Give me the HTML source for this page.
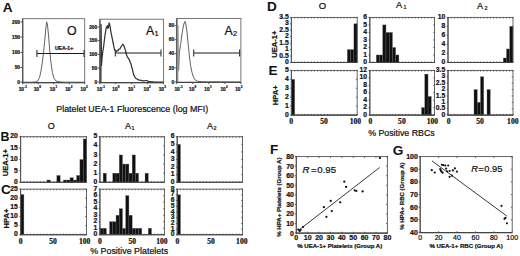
<!DOCTYPE html>
<html><head><meta charset="utf-8"><style>
html,body{margin:0;padding:0;background:#fff;width:520px;height:256px;overflow:hidden}
svg{display:block}
text{stroke:#111;stroke-width:0.22px;paint-order:stroke}

</style></head><body>
<svg width="520" height="256" viewBox="0 0 520 256" font-family='"Liberation Sans", sans-serif' fill="#111">
<rect width="520" height="256" fill="#fff"/>
<text x="2.70" y="12.30" font-size="13.6" font-weight="700" style="stroke:none">A</text>
<text x="0.40" y="140.90" font-size="12.4" font-weight="700" style="stroke:none">B</text>
<text x="0.90" y="194.30" font-size="13.6" font-weight="700" style="stroke:none">C</text>
<text x="267.00" y="11.30" font-size="13.6" font-weight="700" style="stroke:none">D</text>
<text x="268.40" y="75.20" font-size="13.6" font-weight="700" style="stroke:none">E</text>
<text x="270.00" y="154.30" font-size="13.6" font-weight="700" style="stroke:none">F</text>
<text x="392.80" y="154.50" font-size="13.6" font-weight="700" style="stroke:none">G</text>
<rect x="22.7" y="18.7" width="62.0" height="64.0" fill="none" stroke="#666" stroke-width="0.9"/>
<path d="M22.70 18.70L22.70 83.20" stroke="#555" stroke-width="1.3"/>
<path d="M22.20 82.70L84.70 82.70" stroke="#444" stroke-width="1.3"/>
<text x="20.10" y="23.70" font-size="4.9" font-weight="700" text-anchor="end">200</text>
<text x="20.10" y="38.70" font-size="4.9" font-weight="700" text-anchor="end">150</text>
<text x="20.10" y="54.20" font-size="4.9" font-weight="700" text-anchor="end">100</text>
<text x="20.10" y="69.20" font-size="4.9" font-weight="700" text-anchor="end">50</text>
<text x="20.10" y="83.70" font-size="4.9" font-weight="700" text-anchor="end">0</text>
<text x="24.00" y="91.00" font-size="4.8" font-weight="700" text-anchor="end">10</text>
<text x="24.20" y="87.50" font-size="3.0" font-weight="700">-1</text>
<text x="39.00" y="91.00" font-size="4.8" font-weight="700" text-anchor="end">10</text>
<text x="39.20" y="87.50" font-size="3.0" font-weight="700">0</text>
<text x="55.20" y="91.00" font-size="4.8" font-weight="700" text-anchor="end">10</text>
<text x="55.40" y="87.50" font-size="3.0" font-weight="700">1</text>
<text x="70.50" y="91.00" font-size="4.8" font-weight="700" text-anchor="end">10</text>
<text x="70.70" y="87.50" font-size="3.0" font-weight="700">2</text>
<text x="85.90" y="91.00" font-size="4.8" font-weight="700" text-anchor="end">10</text>
<text x="86.10" y="87.50" font-size="3.0" font-weight="700">3</text>
<path d="M20.50 22.00L22.70 22.00M20.50 37.00L22.70 37.00M20.50 52.50L22.70 52.50M20.50 67.50L22.70 67.50M20.50 82.00L22.70 82.00M22.70 82.70L22.70 84.30M38.20 82.70L38.20 84.30M53.70 82.70L53.70 84.30M69.20 82.70L69.20 84.30M84.70 82.70L84.70 84.30" stroke="#444" stroke-width="0.9"/>
<polyline points="23.00,82.20 32.00,82.20 35.50,81.80 37.80,80.80 39.50,77.50 41.00,71.00 42.40,62.00 43.60,52.00 44.80,40.00 45.80,29.00 46.60,21.80 47.50,25.00 48.50,35.00 49.60,49.00 50.90,62.00 52.40,72.50 54.00,78.30 56.00,81.00 59.00,81.80 65.00,82.20 85.00,82.20" fill="none" stroke="#5a5a5a" stroke-width="0.95" stroke-linejoin="round"/>
<path d="M36.90 53.50L84.00 53.50" stroke="#1a1a1a" stroke-width="1.15"/>
<path d="M36.90 50.10L36.90 56.90" stroke="#333" stroke-width="1.1"/>
<path d="M84.00 50.10L84.00 56.90" stroke="#333" stroke-width="1.1"/>
<text x="66.90" y="35.20" font-size="12.3">O</text>
<text x="54.90" y="49.90" font-size="5.1" font-weight="700">UEA-1+</text>
<rect x="99.9" y="19.2" width="63.69999999999999" height="63.5" fill="none" stroke="#666" stroke-width="0.9"/>
<path d="M99.90 19.20L99.90 83.20" stroke="#555" stroke-width="1.3"/>
<path d="M99.40 82.70L163.60 82.70" stroke="#444" stroke-width="1.3"/>
<text x="97.30" y="28.70" font-size="4.9" font-weight="700" text-anchor="end">200</text>
<text x="97.30" y="42.40" font-size="4.9" font-weight="700" text-anchor="end">150</text>
<text x="97.30" y="56.10" font-size="4.9" font-weight="700" text-anchor="end">100</text>
<text x="97.30" y="69.80" font-size="4.9" font-weight="700" text-anchor="end">50</text>
<text x="97.30" y="83.70" font-size="4.9" font-weight="700" text-anchor="end">0</text>
<text x="102.10" y="91.00" font-size="4.8" font-weight="700" text-anchor="end">10</text>
<text x="102.30" y="87.50" font-size="3.0" font-weight="700">-1</text>
<text x="117.60" y="91.00" font-size="4.8" font-weight="700" text-anchor="end">10</text>
<text x="117.80" y="87.50" font-size="3.0" font-weight="700">0</text>
<text x="133.30" y="91.00" font-size="4.8" font-weight="700" text-anchor="end">10</text>
<text x="133.50" y="87.50" font-size="3.0" font-weight="700">1</text>
<text x="148.90" y="91.00" font-size="4.8" font-weight="700" text-anchor="end">10</text>
<text x="149.10" y="87.50" font-size="3.0" font-weight="700">2</text>
<text x="164.00" y="91.00" font-size="4.8" font-weight="700" text-anchor="end">10</text>
<text x="164.20" y="87.50" font-size="3.0" font-weight="700">3</text>
<path d="M97.70 27.00L99.90 27.00M97.70 40.70L99.90 40.70M97.70 54.40L99.90 54.40M97.70 68.10L99.90 68.10M97.70 82.00L99.90 82.00M99.90 82.70L99.90 84.30M115.83 82.70L115.83 84.30M131.75 82.70L131.75 84.30M147.68 82.70L147.68 84.30M163.60 82.70L163.60 84.30" stroke="#444" stroke-width="0.9"/>
<polyline points="100.90,82.30 101.10,24.50 101.50,65.50 102.00,58.50 102.90,51.00 103.70,46.00 104.40,40.00 105.00,35.10 105.70,31.00 106.40,26.90 107.00,27.50 107.50,25.60 108.00,28.50 108.40,27.60 109.10,22.80 109.60,24.50 110.20,26.90 110.60,30.00 111.00,32.40 111.70,36.00 112.40,39.20 113.10,43.00 113.80,46.10 114.40,49.50 115.10,50.20 115.80,51.80 116.50,51.50 117.20,50.40 117.90,50.80 118.90,49.20 120.00,48.80 120.80,47.20 122.00,45.50 122.60,44.20 123.30,44.70 124.20,46.50 125.00,49.20 125.50,50.20 126.40,54.50 127.40,57.00 128.30,58.20 129.40,59.80 130.20,62.50 131.00,63.90 131.70,66.80 132.40,69.30 133.10,72.50 133.70,74.80 134.60,76.50 135.60,78.30 136.60,78.80 137.60,79.40 139.30,80.20 141.10,80.30 143.50,80.90 146.60,80.50 148.50,81.30 150.70,81.60 155.00,82.00 163.00,82.20" fill="none" stroke="#333" stroke-width="1.25" stroke-linejoin="round"/>
<path d="M115.30 53.00L161.00 53.00" stroke="#1a1a1a" stroke-width="1.15"/>
<path d="M115.30 49.60L115.30 56.40" stroke="#333" stroke-width="1.1"/>
<path d="M161.00 49.60L161.00 56.40" stroke="#333" stroke-width="1.1"/>
<text x="145.90" y="34.90" font-size="12.3">A</text>
<text x="154.50" y="36.30" font-size="7.4">1</text>
<rect x="176.8" y="18.5" width="64.1" height="63.900000000000006" fill="none" stroke="#666" stroke-width="0.9"/>
<path d="M176.80 18.50L176.80 82.90" stroke="#555" stroke-width="1.3"/>
<path d="M176.30 82.40L240.90 82.40" stroke="#444" stroke-width="1.3"/>
<text x="174.20" y="27.40" font-size="4.9" font-weight="700" text-anchor="end">80</text>
<text x="174.20" y="41.40" font-size="4.9" font-weight="700" text-anchor="end">60</text>
<text x="174.20" y="55.40" font-size="4.9" font-weight="700" text-anchor="end">40</text>
<text x="174.20" y="69.50" font-size="4.9" font-weight="700" text-anchor="end">20</text>
<text x="174.20" y="83.70" font-size="4.9" font-weight="700" text-anchor="end">0</text>
<text x="179.80" y="91.00" font-size="4.8" font-weight="700" text-anchor="end">10</text>
<text x="180.00" y="87.50" font-size="3.0" font-weight="700">-1</text>
<text x="194.40" y="91.00" font-size="4.8" font-weight="700" text-anchor="end">10</text>
<text x="194.60" y="87.50" font-size="3.0" font-weight="700">0</text>
<text x="209.70" y="91.00" font-size="4.8" font-weight="700" text-anchor="end">10</text>
<text x="209.90" y="87.50" font-size="3.0" font-weight="700">1</text>
<text x="225.80" y="91.00" font-size="4.8" font-weight="700" text-anchor="end">10</text>
<text x="226.00" y="87.50" font-size="3.0" font-weight="700">2</text>
<text x="240.50" y="91.00" font-size="4.8" font-weight="700" text-anchor="end">10</text>
<text x="240.70" y="87.50" font-size="3.0" font-weight="700">3</text>
<path d="M174.60 25.70L176.80 25.70M174.60 39.70L176.80 39.70M174.60 53.70L176.80 53.70M174.60 67.80L176.80 67.80M174.60 82.00L176.80 82.00M176.80 82.40L176.80 84.00M192.83 82.40L192.83 84.00M208.85 82.40L208.85 84.00M224.88 82.40L224.88 84.00M240.90 82.40L240.90 84.00" stroke="#444" stroke-width="0.9"/>
<polyline points="178.60,70.50 179.30,53.00 180.60,44.40 182.00,34.00 183.40,26.00 184.50,22.00 185.00,21.40 185.80,24.00 187.00,32.00 188.20,44.40 189.40,56.00 190.60,65.70 192.00,72.50 193.70,77.90 195.50,80.20 197.40,81.20 202.00,81.80 240.50,82.00" fill="none" stroke="#5a5a5a" stroke-width="0.95" stroke-linejoin="round"/>
<path d="M193.70 53.00L239.60 53.00" stroke="#1a1a1a" stroke-width="1.15"/>
<path d="M193.70 49.60L193.70 56.40" stroke="#333" stroke-width="1.1"/>
<path d="M239.60 49.60L239.60 56.40" stroke="#333" stroke-width="1.1"/>
<text x="224.50" y="34.80" font-size="12.3">A</text>
<text x="233.10" y="36.20" font-size="7.4">2</text>
<path d="M177.90 82.00L177.90 25.50" stroke="#888" stroke-width="0.8"/>
<path d="M177.90 25.50L178.60 70.50" stroke="#888" stroke-width="0.8"/>
<text x="56.30" y="111.80" font-size="8.9">Platelet UEA-1 Fluorescence (log MFI)</text>
<rect x="46.96" y="180.02" width="3.30" height="2.28" fill="#111" stroke="#666" stroke-width="0.35"/>
<rect x="56.85" y="175.46" width="3.30" height="6.84" fill="#111" stroke="#666" stroke-width="0.35"/>
<rect x="63.44" y="180.02" width="3.30" height="2.28" fill="#111" stroke="#666" stroke-width="0.35"/>
<rect x="66.73" y="180.02" width="3.30" height="2.28" fill="#111" stroke="#666" stroke-width="0.35"/>
<rect x="70.03" y="177.74" width="3.30" height="4.56" fill="#111" stroke="#666" stroke-width="0.35"/>
<rect x="73.32" y="180.02" width="3.30" height="2.28" fill="#111" stroke="#666" stroke-width="0.35"/>
<rect x="76.62" y="175.46" width="3.30" height="6.84" fill="#111" stroke="#666" stroke-width="0.35"/>
<rect x="79.91" y="159.50" width="3.30" height="22.80" fill="#111" stroke="#666" stroke-width="0.35"/>
<rect x="83.21" y="138.98" width="3.30" height="43.32" fill="#111" stroke="#666" stroke-width="0.35"/>
<rect x="20.6" y="136.7" width="65.90" height="45.60" fill="none" stroke="#555" stroke-width="0.9"/>
<path d="M20.60 136.30L20.60 182.70" stroke="#555" stroke-width="1.1"/>
<path d="M20.20 182.30L86.50 182.30" stroke="#444" stroke-width="1.1"/>
<text x="17.90" y="183.90" font-size="6.8" font-weight="700" text-anchor="end">0</text>
<text x="17.90" y="172.50" font-size="6.8" font-weight="700" text-anchor="end">5</text>
<text x="17.90" y="161.10" font-size="6.8" font-weight="700" text-anchor="end">10</text>
<text x="17.90" y="149.70" font-size="6.8" font-weight="700" text-anchor="end">15</text>
<text x="17.90" y="138.30" font-size="6.8" font-weight="700" text-anchor="end">20</text>
<path d="M20.60 136.70L20.60 137.90M20.60 182.30L20.60 181.10M23.90 136.70L23.90 137.90M23.90 182.30L23.90 181.10M27.19 136.70L27.19 137.90M27.19 182.30L27.19 181.10M30.49 136.70L30.49 137.90M30.49 182.30L30.49 181.10M33.78 136.70L33.78 137.90M33.78 182.30L33.78 181.10M37.08 136.70L37.08 137.90M37.08 182.30L37.08 181.10M40.37 136.70L40.37 137.90M40.37 182.30L40.37 181.10M43.67 136.70L43.67 137.90M43.67 182.30L43.67 181.10M46.96 136.70L46.96 137.90M46.96 182.30L46.96 181.10M50.26 136.70L50.26 137.90M50.26 182.30L50.26 181.10M53.55 136.70L53.55 137.90M53.55 182.30L53.55 181.10M56.85 136.70L56.85 137.90M56.85 182.30L56.85 181.10M60.14 136.70L60.14 137.90M60.14 182.30L60.14 181.10M63.44 136.70L63.44 137.90M63.44 182.30L63.44 181.10M66.73 136.70L66.73 137.90M66.73 182.30L66.73 181.10M70.03 136.70L70.03 137.90M70.03 182.30L70.03 181.10M73.32 136.70L73.32 137.90M73.32 182.30L73.32 181.10M76.62 136.70L76.62 137.90M76.62 182.30L76.62 181.10M79.91 136.70L79.91 137.90M79.91 182.30L79.91 181.10M83.21 136.70L83.21 137.90M83.21 182.30L83.21 181.10M86.50 136.70L86.50 137.90M86.50 182.30L86.50 181.10M19.30 182.30L20.60 182.30M86.50 182.30L85.20 182.30M19.30 170.90L20.60 170.90M86.50 170.90L85.20 170.90M19.30 159.50L20.60 159.50M86.50 159.50L85.20 159.50M19.30 148.10L20.60 148.10M86.50 148.10L85.20 148.10M19.30 136.70L20.60 136.70M86.50 136.70L85.20 136.70" stroke="#444" stroke-width="0.75"/>
<rect x="103.12" y="173.18" width="3.23" height="9.12" fill="#111" stroke="#666" stroke-width="0.35"/>
<rect x="112.80" y="173.18" width="3.23" height="9.12" fill="#111" stroke="#666" stroke-width="0.35"/>
<rect x="116.03" y="173.18" width="3.23" height="9.12" fill="#111" stroke="#666" stroke-width="0.35"/>
<rect x="119.25" y="154.94" width="3.23" height="27.36" fill="#111" stroke="#666" stroke-width="0.35"/>
<rect x="122.48" y="164.06" width="3.23" height="18.24" fill="#111" stroke="#666" stroke-width="0.35"/>
<rect x="125.70" y="164.06" width="3.23" height="18.24" fill="#111" stroke="#666" stroke-width="0.35"/>
<rect x="128.93" y="173.18" width="3.23" height="9.12" fill="#111" stroke="#666" stroke-width="0.35"/>
<rect x="132.15" y="154.94" width="3.23" height="27.36" fill="#111" stroke="#666" stroke-width="0.35"/>
<rect x="135.38" y="173.18" width="3.23" height="9.12" fill="#111" stroke="#666" stroke-width="0.35"/>
<rect x="145.05" y="173.18" width="3.23" height="9.12" fill="#111" stroke="#666" stroke-width="0.35"/>
<rect x="99.9" y="136.7" width="64.50" height="45.60" fill="none" stroke="#555" stroke-width="0.9"/>
<path d="M99.90 136.30L99.90 182.70" stroke="#555" stroke-width="1.1"/>
<path d="M99.50 182.30L164.40 182.30" stroke="#444" stroke-width="1.1"/>
<text x="97.20" y="183.90" font-size="6.8" font-weight="700" text-anchor="end">0</text>
<text x="97.20" y="174.78" font-size="6.8" font-weight="700" text-anchor="end">1</text>
<text x="97.20" y="165.66" font-size="6.8" font-weight="700" text-anchor="end">2</text>
<text x="97.20" y="156.54" font-size="6.8" font-weight="700" text-anchor="end">3</text>
<text x="97.20" y="147.42" font-size="6.8" font-weight="700" text-anchor="end">4</text>
<text x="97.20" y="138.30" font-size="6.8" font-weight="700" text-anchor="end">5</text>
<path d="M99.90 136.70L99.90 137.90M99.90 182.30L99.90 181.10M103.12 136.70L103.12 137.90M103.12 182.30L103.12 181.10M106.35 136.70L106.35 137.90M106.35 182.30L106.35 181.10M109.58 136.70L109.58 137.90M109.58 182.30L109.58 181.10M112.80 136.70L112.80 137.90M112.80 182.30L112.80 181.10M116.03 136.70L116.03 137.90M116.03 182.30L116.03 181.10M119.25 136.70L119.25 137.90M119.25 182.30L119.25 181.10M122.48 136.70L122.48 137.90M122.48 182.30L122.48 181.10M125.70 136.70L125.70 137.90M125.70 182.30L125.70 181.10M128.93 136.70L128.93 137.90M128.93 182.30L128.93 181.10M132.15 136.70L132.15 137.90M132.15 182.30L132.15 181.10M135.38 136.70L135.38 137.90M135.38 182.30L135.38 181.10M138.60 136.70L138.60 137.90M138.60 182.30L138.60 181.10M141.83 136.70L141.83 137.90M141.83 182.30L141.83 181.10M145.05 136.70L145.05 137.90M145.05 182.30L145.05 181.10M148.28 136.70L148.28 137.90M148.28 182.30L148.28 181.10M151.50 136.70L151.50 137.90M151.50 182.30L151.50 181.10M154.73 136.70L154.73 137.90M154.73 182.30L154.73 181.10M157.95 136.70L157.95 137.90M157.95 182.30L157.95 181.10M161.18 136.70L161.18 137.90M161.18 182.30L161.18 181.10M164.40 136.70L164.40 137.90M164.40 182.30L164.40 181.10M98.60 182.30L99.90 182.30M164.40 182.30L163.10 182.30M98.60 173.18L99.90 173.18M164.40 173.18L163.10 173.18M98.60 164.06L99.90 164.06M164.40 164.06L163.10 164.06M98.60 154.94L99.90 154.94M164.40 154.94L163.10 154.94M98.60 145.82L99.90 145.82M164.40 145.82L163.10 145.82M98.60 136.70L99.90 136.70M164.40 136.70L163.10 136.70" stroke="#444" stroke-width="0.75"/>
<rect x="177.20" y="144.30" width="3.27" height="38.00" fill="#111" stroke="#666" stroke-width="0.35"/>
<rect x="177.2" y="136.7" width="65.30" height="45.60" fill="none" stroke="#555" stroke-width="0.9"/>
<path d="M177.20 136.30L177.20 182.70" stroke="#555" stroke-width="1.1"/>
<path d="M176.80 182.30L242.50 182.30" stroke="#444" stroke-width="1.1"/>
<text x="174.50" y="183.90" font-size="6.8" font-weight="700" text-anchor="end">0</text>
<text x="174.50" y="176.30" font-size="6.8" font-weight="700" text-anchor="end">1</text>
<text x="174.50" y="168.70" font-size="6.8" font-weight="700" text-anchor="end">2</text>
<text x="174.50" y="161.10" font-size="6.8" font-weight="700" text-anchor="end">3</text>
<text x="174.50" y="153.50" font-size="6.8" font-weight="700" text-anchor="end">4</text>
<text x="174.50" y="145.90" font-size="6.8" font-weight="700" text-anchor="end">5</text>
<text x="174.50" y="138.30" font-size="6.8" font-weight="700" text-anchor="end">6</text>
<path d="M177.20 136.70L177.20 137.90M177.20 182.30L177.20 181.10M180.46 136.70L180.46 137.90M180.46 182.30L180.46 181.10M183.73 136.70L183.73 137.90M183.73 182.30L183.73 181.10M187.00 136.70L187.00 137.90M187.00 182.30L187.00 181.10M190.26 136.70L190.26 137.90M190.26 182.30L190.26 181.10M193.52 136.70L193.52 137.90M193.52 182.30L193.52 181.10M196.79 136.70L196.79 137.90M196.79 182.30L196.79 181.10M200.06 136.70L200.06 137.90M200.06 182.30L200.06 181.10M203.32 136.70L203.32 137.90M203.32 182.30L203.32 181.10M206.58 136.70L206.58 137.90M206.58 182.30L206.58 181.10M209.85 136.70L209.85 137.90M209.85 182.30L209.85 181.10M213.12 136.70L213.12 137.90M213.12 182.30L213.12 181.10M216.38 136.70L216.38 137.90M216.38 182.30L216.38 181.10M219.64 136.70L219.64 137.90M219.64 182.30L219.64 181.10M222.91 136.70L222.91 137.90M222.91 182.30L222.91 181.10M226.18 136.70L226.18 137.90M226.18 182.30L226.18 181.10M229.44 136.70L229.44 137.90M229.44 182.30L229.44 181.10M232.70 136.70L232.70 137.90M232.70 182.30L232.70 181.10M235.97 136.70L235.97 137.90M235.97 182.30L235.97 181.10M239.24 136.70L239.24 137.90M239.24 182.30L239.24 181.10M242.50 136.70L242.50 137.90M242.50 182.30L242.50 181.10M175.90 182.30L177.20 182.30M242.50 182.30L241.20 182.30M175.90 174.70L177.20 174.70M242.50 174.70L241.20 174.70M175.90 167.10L177.20 167.10M242.50 167.10L241.20 167.10M175.90 159.50L177.20 159.50M242.50 159.50L241.20 159.50M175.90 151.90L177.20 151.90M242.50 151.90L241.20 151.90M175.90 144.30L177.20 144.30M242.50 144.30L241.20 144.30M175.90 136.70L177.20 136.70M242.50 136.70L241.20 136.70" stroke="#444" stroke-width="0.75"/>
<rect x="20.60" y="194.58" width="3.30" height="40.22" fill="#111" stroke="#666" stroke-width="0.35"/>
<rect x="20.6" y="189.1" width="65.90" height="45.70" fill="none" stroke="#555" stroke-width="0.9"/>
<path d="M20.60 188.70L20.60 235.20" stroke="#555" stroke-width="1.1"/>
<path d="M20.20 234.80L86.50 234.80" stroke="#444" stroke-width="1.1"/>
<text x="17.90" y="236.40" font-size="6.8" font-weight="700" text-anchor="end">0</text>
<text x="17.90" y="227.26" font-size="6.8" font-weight="700" text-anchor="end">5</text>
<text x="17.90" y="218.12" font-size="6.8" font-weight="700" text-anchor="end">10</text>
<text x="17.90" y="208.98" font-size="6.8" font-weight="700" text-anchor="end">15</text>
<text x="17.90" y="199.84" font-size="6.8" font-weight="700" text-anchor="end">20</text>
<text x="17.90" y="190.70" font-size="6.8" font-weight="700" text-anchor="end">25</text>
<path d="M20.60 189.10L20.60 190.30M20.60 234.80L20.60 233.60M23.90 189.10L23.90 190.30M23.90 234.80L23.90 233.60M27.19 189.10L27.19 190.30M27.19 234.80L27.19 233.60M30.49 189.10L30.49 190.30M30.49 234.80L30.49 233.60M33.78 189.10L33.78 190.30M33.78 234.80L33.78 233.60M37.08 189.10L37.08 190.30M37.08 234.80L37.08 233.60M40.37 189.10L40.37 190.30M40.37 234.80L40.37 233.60M43.67 189.10L43.67 190.30M43.67 234.80L43.67 233.60M46.96 189.10L46.96 190.30M46.96 234.80L46.96 233.60M50.26 189.10L50.26 190.30M50.26 234.80L50.26 233.60M53.55 189.10L53.55 190.30M53.55 234.80L53.55 233.60M56.85 189.10L56.85 190.30M56.85 234.80L56.85 233.60M60.14 189.10L60.14 190.30M60.14 234.80L60.14 233.60M63.44 189.10L63.44 190.30M63.44 234.80L63.44 233.60M66.73 189.10L66.73 190.30M66.73 234.80L66.73 233.60M70.03 189.10L70.03 190.30M70.03 234.80L70.03 233.60M73.32 189.10L73.32 190.30M73.32 234.80L73.32 233.60M76.62 189.10L76.62 190.30M76.62 234.80L76.62 233.60M79.91 189.10L79.91 190.30M79.91 234.80L79.91 233.60M83.21 189.10L83.21 190.30M83.21 234.80L83.21 233.60M86.50 189.10L86.50 190.30M86.50 234.80L86.50 233.60M19.30 234.80L20.60 234.80M86.50 234.80L85.20 234.80M19.30 225.66L20.60 225.66M86.50 225.66L85.20 225.66M19.30 216.52L20.60 216.52M86.50 216.52L85.20 216.52M19.30 207.38L20.60 207.38M86.50 207.38L85.20 207.38M19.30 198.24L20.60 198.24M86.50 198.24L85.20 198.24M19.30 189.10L20.60 189.10M86.50 189.10L85.20 189.10" stroke="#444" stroke-width="0.75"/>
<text x="20.60" y="243.60" font-size="7.6" font-weight="700" text-anchor="middle" font-family='"Liberation Serif", serif'>0</text>
<text x="53.00" y="243.60" font-size="7.6" font-weight="700" text-anchor="middle" font-family='"Liberation Serif", serif'>50</text>
<text x="84.70" y="243.60" font-size="7.6" font-weight="700" text-anchor="middle" font-family='"Liberation Serif", serif'>100</text>
<rect x="99.90" y="228.27" width="3.23" height="6.53" fill="#111" stroke="#666" stroke-width="0.35"/>
<rect x="103.12" y="228.27" width="3.23" height="6.53" fill="#111" stroke="#666" stroke-width="0.35"/>
<rect x="109.58" y="221.74" width="3.23" height="13.06" fill="#111" stroke="#666" stroke-width="0.35"/>
<rect x="112.80" y="221.74" width="3.23" height="13.06" fill="#111" stroke="#666" stroke-width="0.35"/>
<rect x="116.03" y="215.21" width="3.23" height="19.59" fill="#111" stroke="#666" stroke-width="0.35"/>
<rect x="119.25" y="208.69" width="3.23" height="26.11" fill="#111" stroke="#666" stroke-width="0.35"/>
<rect x="122.48" y="228.27" width="3.23" height="6.53" fill="#111" stroke="#666" stroke-width="0.35"/>
<rect x="125.70" y="195.63" width="3.23" height="39.17" fill="#111" stroke="#666" stroke-width="0.35"/>
<rect x="128.93" y="215.21" width="3.23" height="19.59" fill="#111" stroke="#666" stroke-width="0.35"/>
<rect x="132.15" y="228.27" width="3.23" height="6.53" fill="#111" stroke="#666" stroke-width="0.35"/>
<rect x="135.38" y="228.27" width="3.23" height="6.53" fill="#111" stroke="#666" stroke-width="0.35"/>
<rect x="138.60" y="228.27" width="3.23" height="6.53" fill="#111" stroke="#666" stroke-width="0.35"/>
<rect x="148.28" y="228.27" width="3.23" height="6.53" fill="#111" stroke="#666" stroke-width="0.35"/>
<rect x="99.9" y="189.1" width="64.50" height="45.70" fill="none" stroke="#555" stroke-width="0.9"/>
<path d="M99.90 188.70L99.90 235.20" stroke="#555" stroke-width="1.1"/>
<path d="M99.50 234.80L164.40 234.80" stroke="#444" stroke-width="1.1"/>
<text x="97.20" y="236.40" font-size="6.8" font-weight="700" text-anchor="end">0</text>
<text x="97.20" y="229.87" font-size="6.8" font-weight="700" text-anchor="end">1</text>
<text x="97.20" y="223.34" font-size="6.8" font-weight="700" text-anchor="end">2</text>
<text x="97.20" y="216.81" font-size="6.8" font-weight="700" text-anchor="end">3</text>
<text x="97.20" y="210.29" font-size="6.8" font-weight="700" text-anchor="end">4</text>
<text x="97.20" y="203.76" font-size="6.8" font-weight="700" text-anchor="end">5</text>
<text x="97.20" y="197.23" font-size="6.8" font-weight="700" text-anchor="end">6</text>
<text x="97.20" y="190.70" font-size="6.8" font-weight="700" text-anchor="end">7</text>
<path d="M99.90 189.10L99.90 190.30M99.90 234.80L99.90 233.60M103.12 189.10L103.12 190.30M103.12 234.80L103.12 233.60M106.35 189.10L106.35 190.30M106.35 234.80L106.35 233.60M109.58 189.10L109.58 190.30M109.58 234.80L109.58 233.60M112.80 189.10L112.80 190.30M112.80 234.80L112.80 233.60M116.03 189.10L116.03 190.30M116.03 234.80L116.03 233.60M119.25 189.10L119.25 190.30M119.25 234.80L119.25 233.60M122.48 189.10L122.48 190.30M122.48 234.80L122.48 233.60M125.70 189.10L125.70 190.30M125.70 234.80L125.70 233.60M128.93 189.10L128.93 190.30M128.93 234.80L128.93 233.60M132.15 189.10L132.15 190.30M132.15 234.80L132.15 233.60M135.38 189.10L135.38 190.30M135.38 234.80L135.38 233.60M138.60 189.10L138.60 190.30M138.60 234.80L138.60 233.60M141.83 189.10L141.83 190.30M141.83 234.80L141.83 233.60M145.05 189.10L145.05 190.30M145.05 234.80L145.05 233.60M148.28 189.10L148.28 190.30M148.28 234.80L148.28 233.60M151.50 189.10L151.50 190.30M151.50 234.80L151.50 233.60M154.73 189.10L154.73 190.30M154.73 234.80L154.73 233.60M157.95 189.10L157.95 190.30M157.95 234.80L157.95 233.60M161.18 189.10L161.18 190.30M161.18 234.80L161.18 233.60M164.40 189.10L164.40 190.30M164.40 234.80L164.40 233.60M98.60 234.80L99.90 234.80M164.40 234.80L163.10 234.80M98.60 228.27L99.90 228.27M164.40 228.27L163.10 228.27M98.60 221.74L99.90 221.74M164.40 221.74L163.10 221.74M98.60 215.21L99.90 215.21M164.40 215.21L163.10 215.21M98.60 208.69L99.90 208.69M164.40 208.69L163.10 208.69M98.60 202.16L99.90 202.16M164.40 202.16L163.10 202.16M98.60 195.63L99.90 195.63M164.40 195.63L163.10 195.63M98.60 189.10L99.90 189.10M164.40 189.10L163.10 189.10" stroke="#444" stroke-width="0.75"/>
<text x="99.90" y="243.60" font-size="7.6" font-weight="700" text-anchor="middle" font-family='"Liberation Serif", serif'>0</text>
<text x="132.20" y="243.60" font-size="7.6" font-weight="700" text-anchor="middle" font-family='"Liberation Serif", serif'>50</text>
<text x="161.90" y="243.60" font-size="7.6" font-weight="700" text-anchor="middle" font-family='"Liberation Serif", serif'>100</text>
<rect x="177.20" y="194.81" width="3.27" height="39.99" fill="#111" stroke="#666" stroke-width="0.35"/>
<rect x="177.2" y="189.1" width="65.30" height="45.70" fill="none" stroke="#555" stroke-width="0.9"/>
<path d="M177.20 188.70L177.20 235.20" stroke="#555" stroke-width="1.1"/>
<path d="M176.80 234.80L242.50 234.80" stroke="#444" stroke-width="1.1"/>
<text x="174.50" y="236.40" font-size="6.8" font-weight="700" text-anchor="end">0</text>
<text x="174.50" y="230.69" font-size="6.8" font-weight="700" text-anchor="end">1</text>
<text x="174.50" y="224.97" font-size="6.8" font-weight="700" text-anchor="end">2</text>
<text x="174.50" y="219.26" font-size="6.8" font-weight="700" text-anchor="end">3</text>
<text x="174.50" y="213.55" font-size="6.8" font-weight="700" text-anchor="end">4</text>
<text x="174.50" y="207.84" font-size="6.8" font-weight="700" text-anchor="end">5</text>
<text x="174.50" y="202.12" font-size="6.8" font-weight="700" text-anchor="end">6</text>
<text x="174.50" y="196.41" font-size="6.8" font-weight="700" text-anchor="end">7</text>
<text x="174.50" y="190.70" font-size="6.8" font-weight="700" text-anchor="end">8</text>
<path d="M177.20 189.10L177.20 190.30M177.20 234.80L177.20 233.60M180.46 189.10L180.46 190.30M180.46 234.80L180.46 233.60M183.73 189.10L183.73 190.30M183.73 234.80L183.73 233.60M187.00 189.10L187.00 190.30M187.00 234.80L187.00 233.60M190.26 189.10L190.26 190.30M190.26 234.80L190.26 233.60M193.52 189.10L193.52 190.30M193.52 234.80L193.52 233.60M196.79 189.10L196.79 190.30M196.79 234.80L196.79 233.60M200.06 189.10L200.06 190.30M200.06 234.80L200.06 233.60M203.32 189.10L203.32 190.30M203.32 234.80L203.32 233.60M206.58 189.10L206.58 190.30M206.58 234.80L206.58 233.60M209.85 189.10L209.85 190.30M209.85 234.80L209.85 233.60M213.12 189.10L213.12 190.30M213.12 234.80L213.12 233.60M216.38 189.10L216.38 190.30M216.38 234.80L216.38 233.60M219.64 189.10L219.64 190.30M219.64 234.80L219.64 233.60M222.91 189.10L222.91 190.30M222.91 234.80L222.91 233.60M226.18 189.10L226.18 190.30M226.18 234.80L226.18 233.60M229.44 189.10L229.44 190.30M229.44 234.80L229.44 233.60M232.70 189.10L232.70 190.30M232.70 234.80L232.70 233.60M235.97 189.10L235.97 190.30M235.97 234.80L235.97 233.60M239.24 189.10L239.24 190.30M239.24 234.80L239.24 233.60M242.50 189.10L242.50 190.30M242.50 234.80L242.50 233.60M175.90 234.80L177.20 234.80M242.50 234.80L241.20 234.80M175.90 229.09L177.20 229.09M242.50 229.09L241.20 229.09M175.90 223.38L177.20 223.38M242.50 223.38L241.20 223.38M175.90 217.66L177.20 217.66M242.50 217.66L241.20 217.66M175.90 211.95L177.20 211.95M242.50 211.95L241.20 211.95M175.90 206.24L177.20 206.24M242.50 206.24L241.20 206.24M175.90 200.53L177.20 200.53M242.50 200.53L241.20 200.53M175.90 194.81L177.20 194.81M242.50 194.81L241.20 194.81M175.90 189.10L177.20 189.10M242.50 189.10L241.20 189.10" stroke="#444" stroke-width="0.75"/>
<text x="177.50" y="243.60" font-size="7.6" font-weight="700" text-anchor="middle" font-family='"Liberation Serif", serif'>0</text>
<text x="211.10" y="243.60" font-size="7.6" font-weight="700" text-anchor="middle" font-family='"Liberation Serif", serif'>50</text>
<text x="241.80" y="243.60" font-size="7.6" font-weight="700" text-anchor="middle" font-family='"Liberation Serif", serif'>100</text>
<text x="51.30" y="128.80" font-size="9.0" text-anchor="middle">O</text>
<text x="124.90" y="129.40" font-size="9.0">A</text>
<text x="131.50" y="130.40" font-size="5.4">1</text>
<text x="207.00" y="129.40" font-size="9.0">A</text>
<text x="213.60" y="130.40" font-size="5.4">2</text>
<text x="8.40" y="176.70" font-size="7.6" font-weight="700" transform="rotate(-90 8.2 176.5)">UEA-1+</text>
<text x="8.90" y="228.50" font-size="7.6" font-weight="700" transform="rotate(-90 8.9 228.5)">HPA+</text>
<text x="90.20" y="254.40" font-size="8.9">% Positive Platelets</text>
<rect x="347.33" y="49.61" width="3.29" height="12.89" fill="#111" stroke="#666" stroke-width="0.35"/>
<rect x="350.62" y="49.61" width="3.29" height="12.89" fill="#111" stroke="#666" stroke-width="0.35"/>
<rect x="353.91" y="23.84" width="3.29" height="38.66" fill="#111" stroke="#666" stroke-width="0.35"/>
<rect x="291.4" y="17.4" width="65.80" height="45.10" fill="none" stroke="#555" stroke-width="0.9"/>
<path d="M291.40 17.00L291.40 62.90" stroke="#555" stroke-width="1.1"/>
<path d="M291.00 62.50L357.20 62.50" stroke="#444" stroke-width="1.1"/>
<text x="288.70" y="64.10" font-size="6.8" font-weight="700" text-anchor="end">0</text>
<text x="288.70" y="57.66" font-size="6.8" font-weight="700" text-anchor="end">0.5</text>
<text x="288.70" y="51.21" font-size="6.8" font-weight="700" text-anchor="end">1</text>
<text x="288.70" y="44.77" font-size="6.8" font-weight="700" text-anchor="end">1.5</text>
<text x="288.70" y="38.33" font-size="6.8" font-weight="700" text-anchor="end">2</text>
<text x="288.70" y="31.89" font-size="6.8" font-weight="700" text-anchor="end">2.5</text>
<text x="288.70" y="25.44" font-size="6.8" font-weight="700" text-anchor="end">3</text>
<text x="288.70" y="19.00" font-size="6.8" font-weight="700" text-anchor="end">3.5</text>
<path d="M291.40 17.40L291.40 18.60M291.40 62.50L291.40 61.30M294.69 17.40L294.69 18.60M294.69 62.50L294.69 61.30M297.98 17.40L297.98 18.60M297.98 62.50L297.98 61.30M301.27 17.40L301.27 18.60M301.27 62.50L301.27 61.30M304.56 17.40L304.56 18.60M304.56 62.50L304.56 61.30M307.85 17.40L307.85 18.60M307.85 62.50L307.85 61.30M311.14 17.40L311.14 18.60M311.14 62.50L311.14 61.30M314.43 17.40L314.43 18.60M314.43 62.50L314.43 61.30M317.72 17.40L317.72 18.60M317.72 62.50L317.72 61.30M321.01 17.40L321.01 18.60M321.01 62.50L321.01 61.30M324.30 17.40L324.30 18.60M324.30 62.50L324.30 61.30M327.59 17.40L327.59 18.60M327.59 62.50L327.59 61.30M330.88 17.40L330.88 18.60M330.88 62.50L330.88 61.30M334.17 17.40L334.17 18.60M334.17 62.50L334.17 61.30M337.46 17.40L337.46 18.60M337.46 62.50L337.46 61.30M340.75 17.40L340.75 18.60M340.75 62.50L340.75 61.30M344.04 17.40L344.04 18.60M344.04 62.50L344.04 61.30M347.33 17.40L347.33 18.60M347.33 62.50L347.33 61.30M350.62 17.40L350.62 18.60M350.62 62.50L350.62 61.30M353.91 17.40L353.91 18.60M353.91 62.50L353.91 61.30M357.20 17.40L357.20 18.60M357.20 62.50L357.20 61.30M290.10 62.50L291.40 62.50M357.20 62.50L355.90 62.50M290.10 56.06L291.40 56.06M357.20 56.06L355.90 56.06M290.10 49.61L291.40 49.61M357.20 49.61L355.90 49.61M290.10 43.17L291.40 43.17M357.20 43.17L355.90 43.17M290.10 36.73L291.40 36.73M357.20 36.73L355.90 36.73M290.10 30.29L291.40 30.29M357.20 30.29L355.90 30.29M290.10 23.84L291.40 23.84M357.20 23.84L355.90 23.84M290.10 17.40L291.40 17.40M357.20 17.40L355.90 17.40" stroke="#444" stroke-width="0.75"/>
<rect x="376.27" y="54.98" width="3.23" height="7.52" fill="#111" stroke="#666" stroke-width="0.35"/>
<rect x="379.50" y="54.98" width="3.23" height="7.52" fill="#111" stroke="#666" stroke-width="0.35"/>
<rect x="382.74" y="24.92" width="3.23" height="37.58" fill="#111" stroke="#666" stroke-width="0.35"/>
<rect x="385.98" y="32.43" width="3.23" height="30.07" fill="#111" stroke="#666" stroke-width="0.35"/>
<rect x="389.21" y="32.43" width="3.23" height="30.07" fill="#111" stroke="#666" stroke-width="0.35"/>
<rect x="392.44" y="47.47" width="3.23" height="15.03" fill="#111" stroke="#666" stroke-width="0.35"/>
<rect x="395.68" y="54.98" width="3.23" height="7.52" fill="#111" stroke="#666" stroke-width="0.35"/>
<rect x="369.8" y="17.4" width="64.70" height="45.10" fill="none" stroke="#555" stroke-width="0.9"/>
<path d="M369.80 17.00L369.80 62.90" stroke="#555" stroke-width="1.1"/>
<path d="M369.40 62.50L434.50 62.50" stroke="#444" stroke-width="1.1"/>
<text x="367.10" y="64.10" font-size="6.8" font-weight="700" text-anchor="end">0</text>
<text x="367.10" y="56.58" font-size="6.8" font-weight="700" text-anchor="end">1</text>
<text x="367.10" y="49.07" font-size="6.8" font-weight="700" text-anchor="end">2</text>
<text x="367.10" y="41.55" font-size="6.8" font-weight="700" text-anchor="end">3</text>
<text x="367.10" y="34.03" font-size="6.8" font-weight="700" text-anchor="end">4</text>
<text x="367.10" y="26.52" font-size="6.8" font-weight="700" text-anchor="end">5</text>
<text x="367.10" y="19.00" font-size="6.8" font-weight="700" text-anchor="end">6</text>
<path d="M369.80 17.40L369.80 18.60M369.80 62.50L369.80 61.30M373.04 17.40L373.04 18.60M373.04 62.50L373.04 61.30M376.27 17.40L376.27 18.60M376.27 62.50L376.27 61.30M379.50 17.40L379.50 18.60M379.50 62.50L379.50 61.30M382.74 17.40L382.74 18.60M382.74 62.50L382.74 61.30M385.98 17.40L385.98 18.60M385.98 62.50L385.98 61.30M389.21 17.40L389.21 18.60M389.21 62.50L389.21 61.30M392.44 17.40L392.44 18.60M392.44 62.50L392.44 61.30M395.68 17.40L395.68 18.60M395.68 62.50L395.68 61.30M398.92 17.40L398.92 18.60M398.92 62.50L398.92 61.30M402.15 17.40L402.15 18.60M402.15 62.50L402.15 61.30M405.38 17.40L405.38 18.60M405.38 62.50L405.38 61.30M408.62 17.40L408.62 18.60M408.62 62.50L408.62 61.30M411.86 17.40L411.86 18.60M411.86 62.50L411.86 61.30M415.09 17.40L415.09 18.60M415.09 62.50L415.09 61.30M418.32 17.40L418.32 18.60M418.32 62.50L418.32 61.30M421.56 17.40L421.56 18.60M421.56 62.50L421.56 61.30M424.80 17.40L424.80 18.60M424.80 62.50L424.80 61.30M428.03 17.40L428.03 18.60M428.03 62.50L428.03 61.30M431.26 17.40L431.26 18.60M431.26 62.50L431.26 61.30M434.50 17.40L434.50 18.60M434.50 62.50L434.50 61.30M368.50 62.50L369.80 62.50M434.50 62.50L433.20 62.50M368.50 54.98L369.80 54.98M434.50 54.98L433.20 54.98M368.50 47.47L369.80 47.47M434.50 47.47L433.20 47.47M368.50 39.95L369.80 39.95M434.50 39.95L433.20 39.95M368.50 32.43L369.80 32.43M434.50 32.43L433.20 32.43M368.50 24.92L369.80 24.92M434.50 24.92L433.20 24.92M368.50 17.40L369.80 17.40M434.50 17.40L433.20 17.40" stroke="#444" stroke-width="0.75"/>
<rect x="503.25" y="57.99" width="3.25" height="4.51" fill="#111" stroke="#666" stroke-width="0.35"/>
<rect x="506.50" y="48.97" width="3.25" height="13.53" fill="#111" stroke="#666" stroke-width="0.35"/>
<rect x="509.75" y="26.42" width="3.25" height="36.08" fill="#111" stroke="#666" stroke-width="0.35"/>
<rect x="448.0" y="17.4" width="65.00" height="45.10" fill="none" stroke="#555" stroke-width="0.9"/>
<path d="M448.00 17.00L448.00 62.90" stroke="#555" stroke-width="1.1"/>
<path d="M447.60 62.50L513.00 62.50" stroke="#444" stroke-width="1.1"/>
<text x="445.30" y="64.10" font-size="6.8" font-weight="700" text-anchor="end">0</text>
<text x="445.30" y="55.08" font-size="6.8" font-weight="700" text-anchor="end">2</text>
<text x="445.30" y="46.06" font-size="6.8" font-weight="700" text-anchor="end">4</text>
<text x="445.30" y="37.04" font-size="6.8" font-weight="700" text-anchor="end">6</text>
<text x="445.30" y="28.02" font-size="6.8" font-weight="700" text-anchor="end">8</text>
<text x="445.30" y="19.00" font-size="6.8" font-weight="700" text-anchor="end">10</text>
<path d="M448.00 17.40L448.00 18.60M448.00 62.50L448.00 61.30M451.25 17.40L451.25 18.60M451.25 62.50L451.25 61.30M454.50 17.40L454.50 18.60M454.50 62.50L454.50 61.30M457.75 17.40L457.75 18.60M457.75 62.50L457.75 61.30M461.00 17.40L461.00 18.60M461.00 62.50L461.00 61.30M464.25 17.40L464.25 18.60M464.25 62.50L464.25 61.30M467.50 17.40L467.50 18.60M467.50 62.50L467.50 61.30M470.75 17.40L470.75 18.60M470.75 62.50L470.75 61.30M474.00 17.40L474.00 18.60M474.00 62.50L474.00 61.30M477.25 17.40L477.25 18.60M477.25 62.50L477.25 61.30M480.50 17.40L480.50 18.60M480.50 62.50L480.50 61.30M483.75 17.40L483.75 18.60M483.75 62.50L483.75 61.30M487.00 17.40L487.00 18.60M487.00 62.50L487.00 61.30M490.25 17.40L490.25 18.60M490.25 62.50L490.25 61.30M493.50 17.40L493.50 18.60M493.50 62.50L493.50 61.30M496.75 17.40L496.75 18.60M496.75 62.50L496.75 61.30M500.00 17.40L500.00 18.60M500.00 62.50L500.00 61.30M503.25 17.40L503.25 18.60M503.25 62.50L503.25 61.30M506.50 17.40L506.50 18.60M506.50 62.50L506.50 61.30M509.75 17.40L509.75 18.60M509.75 62.50L509.75 61.30M513.00 17.40L513.00 18.60M513.00 62.50L513.00 61.30M446.70 62.50L448.00 62.50M513.00 62.50L511.70 62.50M446.70 53.48L448.00 53.48M513.00 53.48L511.70 53.48M446.70 44.46L448.00 44.46M513.00 44.46L511.70 44.46M446.70 35.44L448.00 35.44M513.00 35.44L511.70 35.44M446.70 26.42L448.00 26.42M513.00 26.42L511.70 26.42M446.70 17.40L448.00 17.40M513.00 17.40L511.70 17.40" stroke="#444" stroke-width="0.75"/>
<rect x="291.40" y="79.34" width="3.29" height="35.76" fill="#111" stroke="#666" stroke-width="0.35"/>
<rect x="291.4" y="70.4" width="65.80" height="44.70" fill="none" stroke="#555" stroke-width="0.9"/>
<path d="M291.40 70.00L291.40 115.50" stroke="#555" stroke-width="1.1"/>
<path d="M291.00 115.10L357.20 115.10" stroke="#444" stroke-width="1.1"/>
<text x="288.70" y="116.70" font-size="6.8" font-weight="700" text-anchor="end">0</text>
<text x="288.70" y="107.76" font-size="6.8" font-weight="700" text-anchor="end">1</text>
<text x="288.70" y="98.82" font-size="6.8" font-weight="700" text-anchor="end">2</text>
<text x="288.70" y="89.88" font-size="6.8" font-weight="700" text-anchor="end">3</text>
<text x="288.70" y="80.94" font-size="6.8" font-weight="700" text-anchor="end">4</text>
<text x="288.70" y="72.00" font-size="6.8" font-weight="700" text-anchor="end">5</text>
<path d="M291.40 70.40L291.40 71.60M291.40 115.10L291.40 113.90M294.69 70.40L294.69 71.60M294.69 115.10L294.69 113.90M297.98 70.40L297.98 71.60M297.98 115.10L297.98 113.90M301.27 70.40L301.27 71.60M301.27 115.10L301.27 113.90M304.56 70.40L304.56 71.60M304.56 115.10L304.56 113.90M307.85 70.40L307.85 71.60M307.85 115.10L307.85 113.90M311.14 70.40L311.14 71.60M311.14 115.10L311.14 113.90M314.43 70.40L314.43 71.60M314.43 115.10L314.43 113.90M317.72 70.40L317.72 71.60M317.72 115.10L317.72 113.90M321.01 70.40L321.01 71.60M321.01 115.10L321.01 113.90M324.30 70.40L324.30 71.60M324.30 115.10L324.30 113.90M327.59 70.40L327.59 71.60M327.59 115.10L327.59 113.90M330.88 70.40L330.88 71.60M330.88 115.10L330.88 113.90M334.17 70.40L334.17 71.60M334.17 115.10L334.17 113.90M337.46 70.40L337.46 71.60M337.46 115.10L337.46 113.90M340.75 70.40L340.75 71.60M340.75 115.10L340.75 113.90M344.04 70.40L344.04 71.60M344.04 115.10L344.04 113.90M347.33 70.40L347.33 71.60M347.33 115.10L347.33 113.90M350.62 70.40L350.62 71.60M350.62 115.10L350.62 113.90M353.91 70.40L353.91 71.60M353.91 115.10L353.91 113.90M357.20 70.40L357.20 71.60M357.20 115.10L357.20 113.90M290.10 115.10L291.40 115.10M357.20 115.10L355.90 115.10M290.10 106.16L291.40 106.16M357.20 106.16L355.90 106.16M290.10 97.22L291.40 97.22M357.20 97.22L355.90 97.22M290.10 88.28L291.40 88.28M357.20 88.28L355.90 88.28M290.10 79.34L291.40 79.34M357.20 79.34L355.90 79.34M290.10 70.40L291.40 70.40M357.20 70.40L355.90 70.40" stroke="#444" stroke-width="0.75"/>
<text x="291.20" y="124.20" font-size="7.6" font-weight="700" text-anchor="middle" font-family='"Liberation Serif", serif'>0</text>
<text x="324.10" y="124.20" font-size="7.6" font-weight="700" text-anchor="middle" font-family='"Liberation Serif", serif'>50</text>
<text x="355.40" y="124.20" font-size="7.6" font-weight="700" text-anchor="middle" font-family='"Liberation Serif", serif'>100</text>
<rect x="421.56" y="107.65" width="3.23" height="7.45" fill="#111" stroke="#666" stroke-width="0.35"/>
<rect x="424.80" y="74.12" width="3.23" height="40.97" fill="#111" stroke="#666" stroke-width="0.35"/>
<rect x="428.03" y="96.47" width="3.23" height="18.62" fill="#111" stroke="#666" stroke-width="0.35"/>
<rect x="369.8" y="70.4" width="64.70" height="44.70" fill="none" stroke="#555" stroke-width="0.9"/>
<path d="M369.80 70.00L369.80 115.50" stroke="#555" stroke-width="1.1"/>
<path d="M369.40 115.10L434.50 115.10" stroke="#444" stroke-width="1.1"/>
<text x="367.10" y="116.70" font-size="6.8" font-weight="700" text-anchor="end">0</text>
<text x="367.10" y="109.25" font-size="6.8" font-weight="700" text-anchor="end">2</text>
<text x="367.10" y="101.80" font-size="6.8" font-weight="700" text-anchor="end">4</text>
<text x="367.10" y="94.35" font-size="6.8" font-weight="700" text-anchor="end">6</text>
<text x="367.10" y="86.90" font-size="6.8" font-weight="700" text-anchor="end">8</text>
<text x="367.10" y="79.45" font-size="6.8" font-weight="700" text-anchor="end">10</text>
<text x="367.10" y="72.00" font-size="6.8" font-weight="700" text-anchor="end">12</text>
<path d="M369.80 70.40L369.80 71.60M369.80 115.10L369.80 113.90M373.04 70.40L373.04 71.60M373.04 115.10L373.04 113.90M376.27 70.40L376.27 71.60M376.27 115.10L376.27 113.90M379.50 70.40L379.50 71.60M379.50 115.10L379.50 113.90M382.74 70.40L382.74 71.60M382.74 115.10L382.74 113.90M385.98 70.40L385.98 71.60M385.98 115.10L385.98 113.90M389.21 70.40L389.21 71.60M389.21 115.10L389.21 113.90M392.44 70.40L392.44 71.60M392.44 115.10L392.44 113.90M395.68 70.40L395.68 71.60M395.68 115.10L395.68 113.90M398.92 70.40L398.92 71.60M398.92 115.10L398.92 113.90M402.15 70.40L402.15 71.60M402.15 115.10L402.15 113.90M405.38 70.40L405.38 71.60M405.38 115.10L405.38 113.90M408.62 70.40L408.62 71.60M408.62 115.10L408.62 113.90M411.86 70.40L411.86 71.60M411.86 115.10L411.86 113.90M415.09 70.40L415.09 71.60M415.09 115.10L415.09 113.90M418.32 70.40L418.32 71.60M418.32 115.10L418.32 113.90M421.56 70.40L421.56 71.60M421.56 115.10L421.56 113.90M424.80 70.40L424.80 71.60M424.80 115.10L424.80 113.90M428.03 70.40L428.03 71.60M428.03 115.10L428.03 113.90M431.26 70.40L431.26 71.60M431.26 115.10L431.26 113.90M434.50 70.40L434.50 71.60M434.50 115.10L434.50 113.90M368.50 115.10L369.80 115.10M434.50 115.10L433.20 115.10M368.50 107.65L369.80 107.65M434.50 107.65L433.20 107.65M368.50 100.20L369.80 100.20M434.50 100.20L433.20 100.20M368.50 92.75L369.80 92.75M434.50 92.75L433.20 92.75M368.50 85.30L369.80 85.30M434.50 85.30L433.20 85.30M368.50 77.85L369.80 77.85M434.50 77.85L433.20 77.85M368.50 70.40L369.80 70.40M434.50 70.40L433.20 70.40" stroke="#444" stroke-width="0.75"/>
<text x="370.40" y="124.20" font-size="7.6" font-weight="700" text-anchor="middle" font-family='"Liberation Serif", serif'>0</text>
<text x="401.90" y="124.20" font-size="7.6" font-weight="700" text-anchor="middle" font-family='"Liberation Serif", serif'>50</text>
<text x="432.40" y="124.20" font-size="7.6" font-weight="700" text-anchor="middle" font-family='"Liberation Serif", serif'>100</text>
<rect x="474.00" y="89.56" width="3.25" height="25.54" fill="#111" stroke="#666" stroke-width="0.35"/>
<rect x="477.25" y="102.33" width="3.25" height="12.77" fill="#111" stroke="#666" stroke-width="0.35"/>
<rect x="480.50" y="76.79" width="3.25" height="38.31" fill="#111" stroke="#666" stroke-width="0.35"/>
<rect x="487.00" y="89.56" width="3.25" height="25.54" fill="#111" stroke="#666" stroke-width="0.35"/>
<rect x="448.0" y="70.4" width="65.00" height="44.70" fill="none" stroke="#555" stroke-width="0.9"/>
<path d="M448.00 70.00L448.00 115.50" stroke="#555" stroke-width="1.1"/>
<path d="M447.60 115.10L513.00 115.10" stroke="#444" stroke-width="1.1"/>
<text x="445.30" y="116.70" font-size="6.8" font-weight="700" text-anchor="end">0</text>
<text x="445.30" y="110.31" font-size="6.8" font-weight="700" text-anchor="end">0.5</text>
<text x="445.30" y="103.93" font-size="6.8" font-weight="700" text-anchor="end">1</text>
<text x="445.30" y="97.54" font-size="6.8" font-weight="700" text-anchor="end">1.5</text>
<text x="445.30" y="91.16" font-size="6.8" font-weight="700" text-anchor="end">2</text>
<text x="445.30" y="84.77" font-size="6.8" font-weight="700" text-anchor="end">2.5</text>
<text x="445.30" y="78.39" font-size="6.8" font-weight="700" text-anchor="end">3</text>
<text x="445.30" y="72.00" font-size="6.8" font-weight="700" text-anchor="end">3.5</text>
<path d="M448.00 70.40L448.00 71.60M448.00 115.10L448.00 113.90M451.25 70.40L451.25 71.60M451.25 115.10L451.25 113.90M454.50 70.40L454.50 71.60M454.50 115.10L454.50 113.90M457.75 70.40L457.75 71.60M457.75 115.10L457.75 113.90M461.00 70.40L461.00 71.60M461.00 115.10L461.00 113.90M464.25 70.40L464.25 71.60M464.25 115.10L464.25 113.90M467.50 70.40L467.50 71.60M467.50 115.10L467.50 113.90M470.75 70.40L470.75 71.60M470.75 115.10L470.75 113.90M474.00 70.40L474.00 71.60M474.00 115.10L474.00 113.90M477.25 70.40L477.25 71.60M477.25 115.10L477.25 113.90M480.50 70.40L480.50 71.60M480.50 115.10L480.50 113.90M483.75 70.40L483.75 71.60M483.75 115.10L483.75 113.90M487.00 70.40L487.00 71.60M487.00 115.10L487.00 113.90M490.25 70.40L490.25 71.60M490.25 115.10L490.25 113.90M493.50 70.40L493.50 71.60M493.50 115.10L493.50 113.90M496.75 70.40L496.75 71.60M496.75 115.10L496.75 113.90M500.00 70.40L500.00 71.60M500.00 115.10L500.00 113.90M503.25 70.40L503.25 71.60M503.25 115.10L503.25 113.90M506.50 70.40L506.50 71.60M506.50 115.10L506.50 113.90M509.75 70.40L509.75 71.60M509.75 115.10L509.75 113.90M513.00 70.40L513.00 71.60M513.00 115.10L513.00 113.90M446.70 115.10L448.00 115.10M513.00 115.10L511.70 115.10M446.70 108.71L448.00 108.71M513.00 108.71L511.70 108.71M446.70 102.33L448.00 102.33M513.00 102.33L511.70 102.33M446.70 95.94L448.00 95.94M513.00 95.94L511.70 95.94M446.70 89.56L448.00 89.56M513.00 89.56L511.70 89.56M446.70 83.17L448.00 83.17M513.00 83.17L511.70 83.17M446.70 76.79L448.00 76.79M513.00 76.79L511.70 76.79M446.70 70.40L448.00 70.40M513.00 70.40L511.70 70.40" stroke="#444" stroke-width="0.75"/>
<text x="448.60" y="124.20" font-size="7.6" font-weight="700" text-anchor="middle" font-family='"Liberation Serif", serif'>0</text>
<text x="480.00" y="124.20" font-size="7.6" font-weight="700" text-anchor="middle" font-family='"Liberation Serif", serif'>50</text>
<text x="512.80" y="124.20" font-size="7.6" font-weight="700" text-anchor="middle" font-family='"Liberation Serif", serif'>100</text>
<text x="322.50" y="8.50" font-size="9.5" text-anchor="middle">O</text>
<text x="396.00" y="8.30" font-size="9.2">A</text>
<text x="403.40" y="9.30" font-size="5.4">1</text>
<text x="477.00" y="8.60" font-size="9.2">A</text>
<text x="484.40" y="9.60" font-size="5.4">2</text>
<text x="277.20" y="58.00" font-size="7.6" font-weight="700" transform="rotate(-90 276.7 58.2)">UEA-1+</text>
<text x="278.50" y="105.30" font-size="7.6" font-weight="700" transform="rotate(-90 278.3 105.5)">HPA+</text>
<text x="368.20" y="136.30" font-size="8.8">% Positive RBCs</text>
<rect x="296.3" y="156.6" width="91.10" height="76.50" fill="none" stroke="#555" stroke-width="0.9"/>
<path d="M296.30 156.20L296.30 233.50" stroke="#555" stroke-width="1.1"/>
<path d="M295.90 233.10L387.40 233.10" stroke="#444" stroke-width="1.1"/>
<text x="296.30" y="240.40" font-size="7.0" font-weight="700" text-anchor="middle">0</text>
<text x="307.69" y="240.40" font-size="7.0" font-weight="700" text-anchor="middle">10</text>
<text x="319.07" y="240.40" font-size="7.0" font-weight="700" text-anchor="middle">20</text>
<text x="330.46" y="240.40" font-size="7.0" font-weight="700" text-anchor="middle">30</text>
<text x="341.85" y="240.40" font-size="7.0" font-weight="700" text-anchor="middle">40</text>
<text x="353.24" y="240.40" font-size="7.0" font-weight="700" text-anchor="middle">50</text>
<text x="364.62" y="240.40" font-size="7.0" font-weight="700" text-anchor="middle">60</text>
<text x="376.01" y="240.40" font-size="7.0" font-weight="700" text-anchor="middle">70</text>
<text x="387.40" y="240.40" font-size="7.0" font-weight="700" text-anchor="middle">80</text>
<text x="294.00" y="235.60" font-size="7.0" font-weight="700" text-anchor="end">0</text>
<text x="294.00" y="226.04" font-size="7.0" font-weight="700" text-anchor="end">10</text>
<text x="294.00" y="216.47" font-size="7.0" font-weight="700" text-anchor="end">20</text>
<text x="294.00" y="206.91" font-size="7.0" font-weight="700" text-anchor="end">30</text>
<text x="294.00" y="197.35" font-size="7.0" font-weight="700" text-anchor="end">40</text>
<text x="294.00" y="187.79" font-size="7.0" font-weight="700" text-anchor="end">50</text>
<text x="294.00" y="178.22" font-size="7.0" font-weight="700" text-anchor="end">60</text>
<text x="294.00" y="168.66" font-size="7.0" font-weight="700" text-anchor="end">70</text>
<text x="294.00" y="159.10" font-size="7.0" font-weight="700" text-anchor="end">80</text>
<path d="M296.30 233.10L296.30 231.70M296.30 156.60L296.30 158.00M307.69 233.10L307.69 231.70M307.69 156.60L307.69 158.00M319.07 233.10L319.07 231.70M319.07 156.60L319.07 158.00M330.46 233.10L330.46 231.70M330.46 156.60L330.46 158.00M341.85 233.10L341.85 231.70M341.85 156.60L341.85 158.00M353.24 233.10L353.24 231.70M353.24 156.60L353.24 158.00M364.62 233.10L364.62 231.70M364.62 156.60L364.62 158.00M376.01 233.10L376.01 231.70M376.01 156.60L376.01 158.00M387.40 233.10L387.40 231.70M387.40 156.60L387.40 158.00M294.80 233.10L296.30 233.10M387.40 233.10L386.00 233.10M294.80 223.54L296.30 223.54M387.40 223.54L386.00 223.54M294.80 213.97L296.30 213.97M387.40 213.97L386.00 213.97M294.80 204.41L296.30 204.41M387.40 204.41L386.00 204.41M294.80 194.85L296.30 194.85M387.40 194.85L386.00 194.85M294.80 185.29L296.30 185.29M387.40 185.29L386.00 185.29M294.80 175.72L296.30 175.72M387.40 175.72L386.00 175.72M294.80 166.16L296.30 166.16M387.40 166.16L386.00 166.16M294.80 156.60L296.30 156.60M387.40 156.60L386.00 156.60" stroke="#444" stroke-width="0.75"/>
<circle cx="379.90" cy="157.90" r="1.15" fill="#111"/>
<circle cx="344.30" cy="181.70" r="1.15" fill="#111"/>
<circle cx="346.10" cy="186.90" r="1.15" fill="#111"/>
<circle cx="354.70" cy="190.30" r="1.15" fill="#111"/>
<circle cx="356.30" cy="190.90" r="1.15" fill="#111"/>
<circle cx="362.60" cy="191.40" r="1.15" fill="#111"/>
<circle cx="330.70" cy="200.90" r="1.15" fill="#111"/>
<circle cx="323.90" cy="207.20" r="1.15" fill="#111"/>
<circle cx="340.20" cy="202.30" r="1.15" fill="#111"/>
<circle cx="331.80" cy="211.10" r="1.15" fill="#111"/>
<circle cx="326.40" cy="216.80" r="1.15" fill="#111"/>
<circle cx="303.10" cy="226.90" r="1.15" fill="#111"/>
<circle cx="298.20" cy="229.60" r="1.15" fill="#111"/>
<circle cx="300.50" cy="229.90" r="1.15" fill="#111"/>
<circle cx="299.60" cy="231.00" r="1.15" fill="#111"/>
<path d="M299.50 229.60L379.60 167.50" stroke="#222" stroke-width="0.9"/>
<text y="172.9" font-size="9.6"><tspan x="302.4" font-style="italic">R</tspan><tspan x="311.1">=</tspan><tspan x="317.3">0.95</tspan></text>
<text x="297.30" y="248.30" font-size="6.05" font-weight="700">% UEA-1+ Platelets (Group A)</text>
<text x="281.00" y="236.70" font-size="6.05" font-weight="700" transform="rotate(-90 281 236.7)">% HPA+ Platelets (Group A)</text>
<rect x="420.2" y="156.6" width="92.00" height="76.00" fill="none" stroke="#555" stroke-width="0.9"/>
<path d="M420.20 156.20L420.20 233.00" stroke="#555" stroke-width="1.1"/>
<path d="M419.80 232.60L512.20 232.60" stroke="#444" stroke-width="1.1"/>
<text x="420.20" y="240.40" font-size="7.0" text-anchor="middle">0</text>
<text x="438.60" y="240.40" font-size="7.0" text-anchor="middle">20</text>
<text x="457.00" y="240.40" font-size="7.0" text-anchor="middle">40</text>
<text x="475.40" y="240.40" font-size="7.0" text-anchor="middle">60</text>
<text x="493.80" y="240.40" font-size="7.0" text-anchor="middle">80</text>
<text x="512.20" y="240.40" font-size="7.0" text-anchor="middle">100</text>
<text x="417.90" y="235.10" font-size="7.0" font-weight="700" text-anchor="end">40</text>
<text x="417.90" y="222.43" font-size="7.0" font-weight="700" text-anchor="end">50</text>
<text x="417.90" y="209.77" font-size="7.0" font-weight="700" text-anchor="end">60</text>
<text x="417.90" y="197.10" font-size="7.0" font-weight="700" text-anchor="end">70</text>
<text x="417.90" y="184.43" font-size="7.0" font-weight="700" text-anchor="end">80</text>
<text x="417.90" y="171.77" font-size="7.0" font-weight="700" text-anchor="end">90</text>
<text x="417.90" y="159.10" font-size="7.0" font-weight="700" text-anchor="end">100</text>
<path d="M420.20 232.60L420.20 231.20M420.20 156.60L420.20 158.00M438.60 232.60L438.60 231.20M438.60 156.60L438.60 158.00M457.00 232.60L457.00 231.20M457.00 156.60L457.00 158.00M475.40 232.60L475.40 231.20M475.40 156.60L475.40 158.00M493.80 232.60L493.80 231.20M493.80 156.60L493.80 158.00M512.20 232.60L512.20 231.20M512.20 156.60L512.20 158.00M418.70 232.60L420.20 232.60M512.20 232.60L510.80 232.60M418.70 219.93L420.20 219.93M512.20 219.93L510.80 219.93M418.70 207.27L420.20 207.27M512.20 207.27L510.80 207.27M418.70 194.60L420.20 194.60M512.20 194.60L510.80 194.60M418.70 181.93L420.20 181.93M512.20 181.93L510.80 181.93M418.70 169.27L420.20 169.27M512.20 169.27L510.80 169.27M418.70 156.60L420.20 156.60M512.20 156.60L510.80 156.60" stroke="#444" stroke-width="0.75"/>
<circle cx="431.80" cy="170.20" r="1.1" fill="#111"/>
<circle cx="434.70" cy="172.50" r="1.1" fill="#111"/>
<circle cx="440.20" cy="169.00" r="1.1" fill="#111"/>
<circle cx="440.80" cy="170.40" r="1.1" fill="#111"/>
<circle cx="441.40" cy="171.60" r="1.1" fill="#111"/>
<circle cx="442.60" cy="172.70" r="1.1" fill="#111"/>
<circle cx="442.00" cy="164.80" r="1.1" fill="#111"/>
<circle cx="443.20" cy="165.10" r="1.1" fill="#111"/>
<circle cx="445.20" cy="165.50" r="1.1" fill="#111"/>
<circle cx="448.20" cy="165.50" r="1.1" fill="#111"/>
<circle cx="446.10" cy="168.60" r="1.1" fill="#111"/>
<circle cx="447.00" cy="171.30" r="1.1" fill="#111"/>
<circle cx="449.60" cy="171.00" r="1.1" fill="#111"/>
<circle cx="452.90" cy="170.40" r="1.1" fill="#111"/>
<circle cx="454.90" cy="168.30" r="1.1" fill="#111"/>
<circle cx="456.90" cy="171.60" r="1.1" fill="#111"/>
<circle cx="449.60" cy="176.80" r="1.1" fill="#111"/>
<circle cx="452.00" cy="175.70" r="1.1" fill="#111"/>
<circle cx="501.50" cy="205.80" r="1.1" fill="#111"/>
<circle cx="504.50" cy="218.80" r="1.1" fill="#111"/>
<circle cx="505.40" cy="217.90" r="1.1" fill="#111"/>
<circle cx="506.90" cy="223.30" r="1.1" fill="#111"/>
<path d="M432.00 160.90L506.90 216.10" stroke="#222" stroke-width="0.9"/>
<text y="172.4" font-size="9.3"><tspan x="471.3" font-style="italic">R</tspan><tspan x="478.2">=</tspan><tspan x="484.3">0.95</tspan></text>
<text x="429.50" y="248.30" font-size="6.05" font-weight="700">% UEA-1+ RBC (Group A)</text>
<text x="404.00" y="229.80" font-size="6.05" font-weight="700" transform="rotate(-90 404 229.8)">% HPA+ RBC (Group A)</text>
</svg>
</body></html>
